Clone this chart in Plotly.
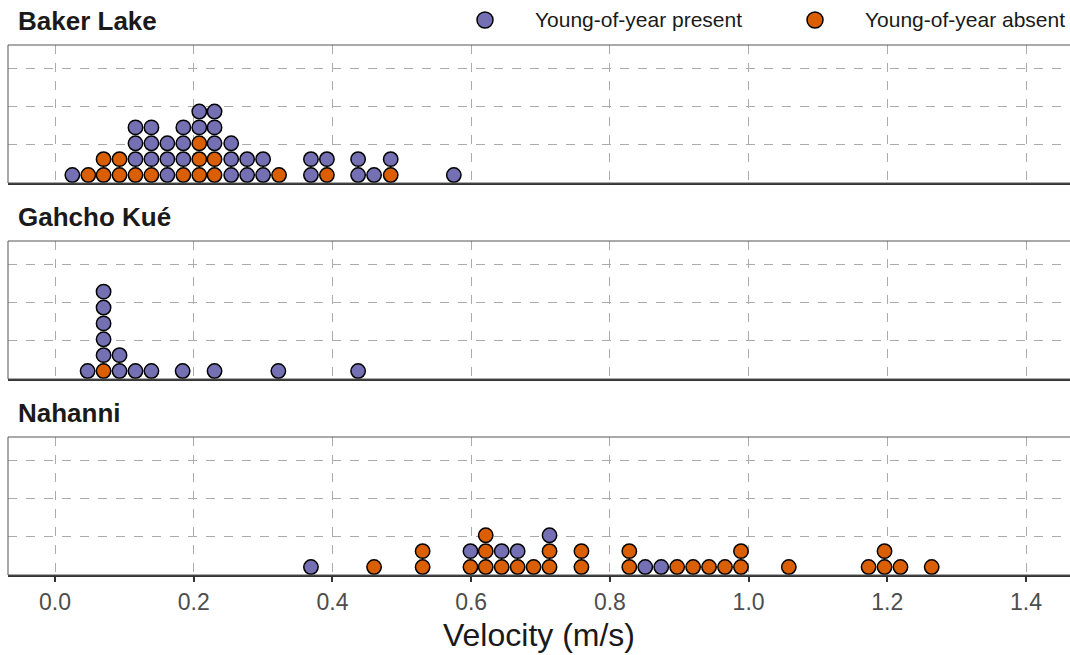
import plotly.graph_objects as go
from plotly.subplots import make_subplots

# ---------------- data ----------------
sites = ["Baker Lake", "Gahcho Kué", "Nahanni"]

baker_bins    = [0.025, 0.048, 0.070, 0.093, 0.116, 0.139, 0.162, 0.185, 0.208, 0.230,
                 0.254, 0.277, 0.300, 0.323, 0.369, 0.392, 0.437, 0.460, 0.484, 0.575]
baker_absent  = [0, 1, 2, 2, 1, 1, 0, 1, 3, 2, 0, 0, 0, 1, 0, 1, 0, 0, 1, 0]
baker_present = [1, 0, 0, 0, 3, 3, 3, 3, 2, 3, 3, 2, 2, 0, 2, 1, 2, 1, 1, 1]

gahcho_bins    = [0.047, 0.070, 0.093, 0.116, 0.139, 0.184, 0.230, 0.322, 0.437]
gahcho_absent  = [0, 1, 0, 0, 0, 0, 0, 0, 0]
gahcho_present = [1, 5, 2, 1, 1, 1, 1, 1, 1]

nahanni_bins    = [0.369, 0.460, 0.530, 0.599, 0.621, 0.644, 0.667, 0.690, 0.713, 0.759,
                   0.828, 0.851, 0.874, 0.897, 0.920, 0.943, 0.966, 0.989, 1.058, 1.173,
                   1.196, 1.219, 1.264]
nahanni_absent  = [0, 1, 2, 1, 3, 1, 1, 1, 2, 2, 2, 0, 0, 1, 1, 1, 1, 2, 1, 1, 2, 1, 1]
nahanni_present = [1, 0, 0, 1, 0, 1, 1, 0, 1, 0, 0, 1, 1, 0, 0, 0, 0, 0, 0, 0, 0, 0, 0]

x_ticks = [0.0, 0.2, 0.4, 0.6, 0.8, 1.0, 1.2, 1.4]
x_tick_labels = ["0.0", "0.2", "0.4", "0.6", "0.8", "1.0", "1.2", "1.4"]

BINWIDTH = 0.0229
groups = ["Young-of-year present", "Young-of-year absent"]
colors = {"Young-of-year present": "#7570B3", "Young-of-year absent": "#D95F02"}

# ---------------- layout geometry ----------------
W, H = 1070, 655
M_L, M_R, M_T, M_B = 8, 0, 45, 80
X_RANGE = [-0.0678, 1.4634]
Y_RANGE = [0, 0.9]
panel_h = 138
gap = 58
plot_w = W - M_L - M_R
plot_h = H - M_T - M_B
px_per_x = plot_w / (X_RANGE[1] - X_RANGE[0])
px_per_y = panel_h / (Y_RANGE[1] - Y_RANGE[0])
dot_d_y = BINWIDTH * px_per_x / px_per_y
dot_px = BINWIDTH * px_per_x
FONT = "Liberation Sans, Arial"


def paper_x(px):
    return (px - M_L) / plot_w


def paper_y(py):
    return (H - M_B - py) / plot_h


fig = make_subplots(rows=3, cols=1, shared_xaxes=False, vertical_spacing=gap / plot_h)

site_data = [
    (baker_bins, baker_absent, baker_present),
    (gahcho_bins, gahcho_absent, gahcho_present),
    (nahanni_bins, nahanni_absent, nahanni_present),
]

for i, (bins, absent, present) in enumerate(site_data):
    row = i + 1
    pts = {g: ([], []) for g in groups}
    for b, a, p in zip(bins, absent, present):
        k = 0
        for _ in range(a):
            pts["Young-of-year absent"][0].append(b)
            pts["Young-of-year absent"][1].append((k + 0.5) * dot_d_y)
            k += 1
        for _ in range(p):
            pts["Young-of-year present"][0].append(b)
            pts["Young-of-year present"][1].append((k + 0.5) * dot_d_y)
            k += 1
    for g in groups:
        fig.add_trace(go.Scatter(
            x=pts[g][0], y=pts[g][1], mode="markers", name=g,
            legendgroup=g, showlegend=False,
            marker=dict(size=dot_px - 1.5, color=colors[g],
                        line=dict(color="black", width=1.5)),
            cliponaxis=False, hoverinfo="x",
        ), row=row, col=1)

# domains, axes, panel borders, strip titles
for i in range(3):
    top = M_T + i * (panel_h + gap)
    bot = top + panel_h
    xa = "xaxis" if i == 0 else f"xaxis{i+1}"
    ya = "yaxis" if i == 0 else f"yaxis{i+1}"
    fig.layout[ya].domain = [paper_y(bot), paper_y(top)]
    fig.layout[ya].update(range=Y_RANGE, tickvals=[0.25, 0.5, 0.75], showticklabels=False,
                          showgrid=True, gridcolor="#ababab", griddash="dash", gridwidth=1,
                          zeroline=False, ticks="", showline=False, fixedrange=True)
    fig.layout[xa].update(range=X_RANGE, tickvals=x_ticks, ticktext=x_tick_labels,
                          showticklabels=(i == 2), showgrid=True, gridcolor="#ababab",
                          griddash="dash", gridwidth=1, zeroline=False,
                          showline=True, linecolor="#333333", linewidth=2,
                          ticks="outside" if i == 2 else "", ticklen=5, tickwidth=2,
                          tickcolor="#333333",
                          tickfont=dict(family=FONT, size=23, color="#4D4D4D"))
    xref = "x domain" if i == 0 else f"x{i+1} domain"
    yref = "y domain" if i == 0 else f"y{i+1} domain"
    # panel border continues past the right edge of the picture
    fig.add_shape(type="rect", xref=xref, yref=yref, x0=0, x1=1.01, y0=0, y1=1,
                  line=dict(color="#555555", width=1), layer="above")
    fig.add_annotation(text=f"<b>{sites[i]}</b>", xref=xref, yref=yref, x=0, y=1,
                       xshift=8, yshift=7, xanchor="left", yanchor="bottom",
                       showarrow=False,
                       font=dict(family=FONT, size=26, color="#1a1a1a"))

fig.layout["xaxis3"].title = dict(text="Velocity (m/s)", standoff=10,
                                  font=dict(family=FONT, size=32, color="#1a1a1a"))

# legend (top right): key circles + labels
legend_pos = {"Young-of-year present": 485, "Young-of-year absent": 815}
for g in groups:
    cx = legend_pos[g]
    fig.add_shape(type="circle", xref="paper", yref="paper",
                  xsizemode="pixel", ysizemode="pixel",
                  xanchor=paper_x(cx), yanchor=paper_y(20),
                  x0=-8, x1=8, y0=-8, y1=8,
                  fillcolor=colors[g], line=dict(color="black", width=1.5))
    fig.add_annotation(text=g, xref="paper", yref="paper",
                       x=paper_x(cx + 48), y=paper_y(20),
                       xanchor="left", yanchor="middle", showarrow=False,
                       font=dict(family=FONT, size=21, color="#1a1a1a"))

fig.update_layout(
    width=W, height=H,
    margin=dict(l=M_L, r=M_R, t=M_T, b=M_B),
    plot_bgcolor="white", paper_bgcolor="white",
    showlegend=False,
    font=dict(family=FONT),
)

fig.write_html("out.html")
